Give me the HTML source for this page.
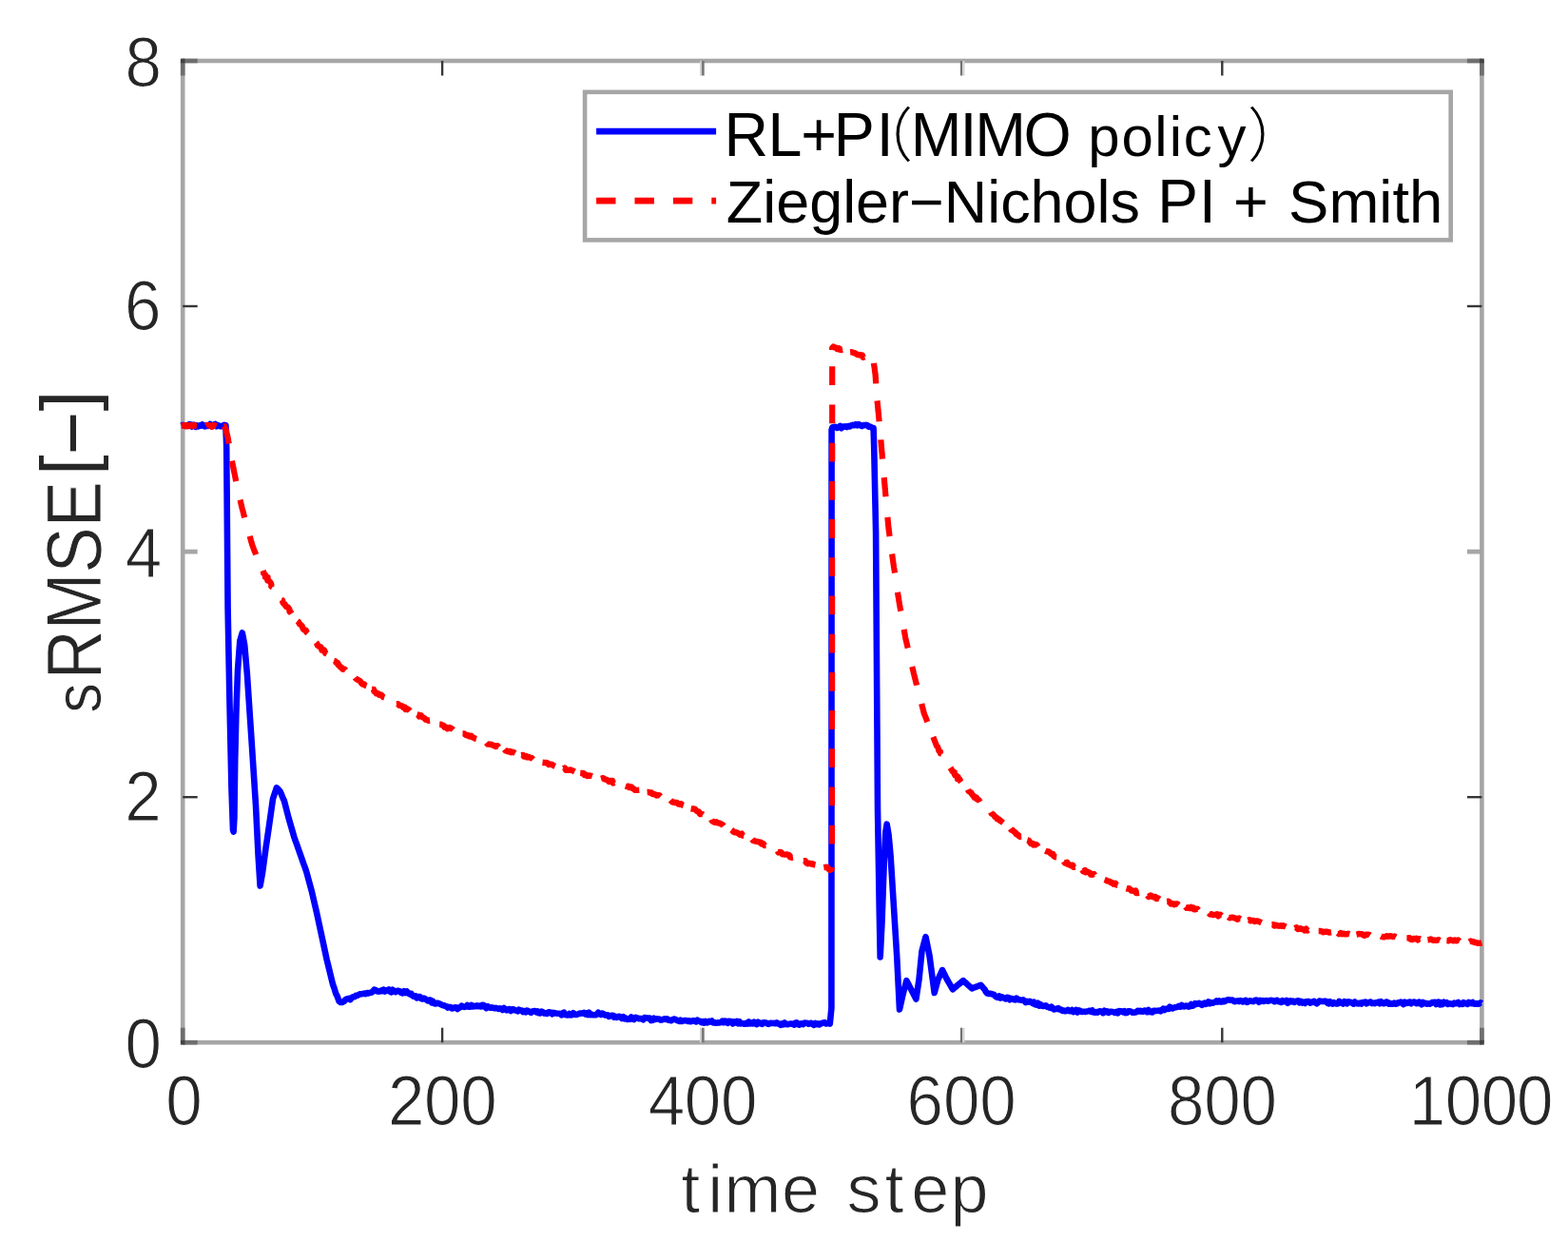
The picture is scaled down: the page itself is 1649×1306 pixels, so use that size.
<!DOCTYPE html>
<html><head><meta charset="utf-8"><title>sRMSE plot</title>
<style>html,body{margin:0;padding:0;background:#fff;}svg{display:block;}</style>
</head><body>
<svg width="1649" height="1306" viewBox="0 0 1649 1306">
<rect width="1649" height="1306" fill="#fff"/>
<rect x="192.2" y="64.0" width="1366.2" height="1032.2" fill="none" stroke="#a6a6a6" stroke-width="4.6"/>
<line x1="465.1" y1="64.0" x2="465.1" y2="79.5" stroke="#363636" stroke-width="2.4"/>
<line x1="736.9" y1="64.0" x2="736.9" y2="79.5" stroke="#d2d2d2" stroke-width="1.8"/>
<line x1="739.3" y1="64.0" x2="739.3" y2="79.5" stroke="#787878" stroke-width="2.8"/>
<line x1="1011.0" y1="64.0" x2="1011.0" y2="79.5" stroke="#727272" stroke-width="2.2"/>
<line x1="1013.3" y1="64.0" x2="1013.3" y2="79.5" stroke="#d2d2d2" stroke-width="2.4"/>
<line x1="1285.3" y1="64.0" x2="1285.3" y2="79.5" stroke="#363636" stroke-width="2.4"/>
<line x1="192.2" y1="64.0" x2="192.2" y2="79.5" stroke="#6e6e6e" stroke-width="4.6"/>
<line x1="1558.4" y1="64.0" x2="1558.4" y2="79.5" stroke="#6e6e6e" stroke-width="4.6"/>
<line x1="465.1" y1="1096.2" x2="465.1" y2="1080.7" stroke="#363636" stroke-width="2.4"/>
<line x1="736.9" y1="1096.2" x2="736.9" y2="1080.7" stroke="#d2d2d2" stroke-width="1.8"/>
<line x1="739.3" y1="1096.2" x2="739.3" y2="1080.7" stroke="#787878" stroke-width="2.8"/>
<line x1="1011.0" y1="1096.2" x2="1011.0" y2="1080.7" stroke="#727272" stroke-width="2.2"/>
<line x1="1013.3" y1="1096.2" x2="1013.3" y2="1080.7" stroke="#d2d2d2" stroke-width="2.4"/>
<line x1="1285.3" y1="1096.2" x2="1285.3" y2="1080.7" stroke="#363636" stroke-width="2.4"/>
<line x1="192.2" y1="1096.2" x2="192.2" y2="1080.7" stroke="#6e6e6e" stroke-width="4.6"/>
<line x1="1558.4" y1="1096.2" x2="1558.4" y2="1080.7" stroke="#6e6e6e" stroke-width="4.6"/>
<line x1="192.2" y1="838.2" x2="207.7" y2="838.2" stroke="#363636" stroke-width="2.4"/>
<line x1="192.2" y1="580.1" x2="207.7" y2="580.1" stroke="#a6a6a6" stroke-width="4.8"/>
<line x1="192.2" y1="322.0" x2="207.7" y2="322.0" stroke="#363636" stroke-width="2.4"/>
<line x1="192.2" y1="1096.2" x2="207.7" y2="1096.2" stroke="#6e6e6e" stroke-width="4.6"/>
<line x1="192.2" y1="64.0" x2="207.7" y2="64.0" stroke="#6e6e6e" stroke-width="4.6"/>
<line x1="1558.4" y1="838.2" x2="1542.9" y2="838.2" stroke="#363636" stroke-width="2.4"/>
<line x1="1558.4" y1="580.1" x2="1542.9" y2="580.1" stroke="#a6a6a6" stroke-width="4.8"/>
<line x1="1558.4" y1="322.0" x2="1542.9" y2="322.0" stroke="#363636" stroke-width="2.4"/>
<line x1="1558.4" y1="1096.2" x2="1542.9" y2="1096.2" stroke="#6e6e6e" stroke-width="4.6"/>
<line x1="1558.4" y1="64.0" x2="1542.9" y2="64.0" stroke="#6e6e6e" stroke-width="4.6"/>
<rect x="189.9" y="61.7" width="4.6" height="4.6" fill="#444"/>
<rect x="1556.1" y="61.7" width="4.6" height="4.6" fill="#444"/>
<rect x="189.9" y="1093.9" width="4.6" height="4.6" fill="#444"/>
<rect x="1556.1" y="1093.9" width="4.6" height="4.6" fill="#444"/>
<path d="M190.8 447.6 L192.2 446.9 L193.5 447.7 L194.9 447.2 L196.3 447.8 L197.7 447.9 L199.0 446.3 L200.4 446.2 L201.8 448.5 L203.1 446.8 L204.5 446.7 L205.9 448.9 L207.2 447.4 L208.6 448.4 L210.0 447.4 L211.4 447.8 L212.7 446.4 L214.1 447.8 L215.5 448.4 L216.8 447.4 L218.2 448.0 L219.6 447.8 L221.0 446.1 L222.3 448.1 L223.7 447.6 L225.1 446.7 L226.4 446.0 L227.8 448.3 L229.2 447.2 L230.5 447.9 L231.9 448.3 L233.3 447.8 L234.7 448.4 L236.0 446.9 L237.4 447.2 L238.2 470.0 L239.6 640.0 L241.5 740.0 L243.5 830.0 L245.0 872.5 L245.6 874.5 L246.4 860.0 L247.2 800.0 L248.4 750.0 L250.0 705.0 L252.3 674.0 L254.8 665.3 L257.2 678.0 L259.9 709.0 L264.5 777.8 L269.0 846.8 L271.6 900.0 L273.6 931.5 L276.0 918.0 L279.5 892.0 L282.8 869.7 L287.0 840.0 L288.9 834.2 L290.9 828.4 L292.7 830.2 L294.5 832.0 L296.0 835.4 L297.4 838.8 L298.9 842.2 L303.5 860.0 L309.3 880.0 L310.7 884.1 L312.2 888.1 L313.6 892.2 L315.0 896.2 L316.5 900.3 L317.9 904.3 L319.3 908.4 L320.8 912.4 L322.2 916.5 L327.6 936.3 L333.0 959.4 L338.5 985.0 L343.6 1008.7 L350.0 1035.0 L351.6 1039.4 L353.2 1044.7 L354.9 1048.1 L356.5 1052.7 L358.3 1054.0 L360.1 1053.9 L361.9 1052.9 L363.5 1051.0 L365.1 1050.3 L366.8 1049.8 L368.4 1051.1 L370.0 1049.0 L371.4 1048.3 L372.9 1048.3 L374.3 1046.8 L375.8 1046.8 L377.2 1046.0 L378.7 1045.3 L380.1 1045.2 L381.6 1045.0 L383.1 1044.6 L384.6 1045.1 L386.1 1044.1 L387.6 1044.4 L389.1 1043.8 L390.6 1043.8 L392.1 1042.5 L393.6 1040.7 L395.1 1041.2 L396.5 1042.3 L397.9 1042.6 L399.2 1042.5 L400.6 1041.6 L402.0 1042.1 L403.4 1040.7 L404.8 1042.5 L406.1 1041.9 L407.5 1041.1 L408.9 1040.5 L410.3 1042.8 L411.6 1043.3 L413.0 1040.8 L414.4 1042.0 L415.9 1043.1 L417.4 1042.2 L418.9 1041.7 L420.4 1042.3 L421.9 1043.8 L423.4 1044.3 L424.9 1042.2 L426.4 1044.0 L427.9 1042.6 L429.4 1044.1 L430.9 1045.4 L432.4 1044.9 L433.9 1047.1 L435.4 1048.0 L436.9 1047.3 L438.4 1049.3 L439.9 1048.0 L441.4 1048.0 L442.9 1050.1 L444.4 1050.5 L445.8 1049.6 L447.1 1050.4 L448.5 1051.4 L449.9 1052.4 L451.3 1051.5 L452.6 1051.6 L454.0 1054.3 L455.4 1053.1 L456.8 1055.3 L458.1 1055.5 L459.5 1054.8 L460.9 1054.9 L462.4 1055.6 L463.8 1056.2 L465.2 1057.0 L466.6 1057.3 L468.1 1057.7 L469.5 1058.3 L470.9 1059.6 L472.3 1058.9 L473.8 1059.1 L475.2 1060.4 L476.6 1060.2 L478.1 1059.3 L479.6 1059.3 L481.1 1061.0 L482.6 1059.5 L484.0 1059.4 L485.5 1057.7 L487.0 1058.6 L488.5 1058.9 L490.0 1058.5 L491.4 1057.1 L492.9 1058.6 L494.4 1058.6 L495.8 1056.9 L497.2 1058.4 L498.7 1057.8 L500.1 1058.3 L501.6 1057.3 L503.1 1058.2 L504.5 1057.5 L505.9 1058.4 L507.3 1056.7 L508.7 1057.0 L510.1 1059.0 L511.5 1060.1 L513.0 1058.3 L514.4 1059.2 L515.8 1059.8 L517.2 1059.3 L518.6 1059.7 L520.0 1060.3 L521.4 1059.9 L522.9 1060.2 L524.3 1061.0 L525.8 1060.3 L527.2 1060.7 L528.6 1061.9 L530.1 1060.0 L531.5 1061.6 L532.9 1062.3 L534.4 1061.2 L535.8 1061.1 L537.2 1062.9 L538.7 1061.4 L540.1 1061.4 L541.6 1062.3 L543.0 1062.6 L544.4 1063.3 L545.8 1061.7 L547.2 1062.4 L548.6 1062.6 L550.0 1064.1 L551.4 1063.1 L552.8 1064.3 L554.2 1062.5 L555.6 1063.1 L557.0 1064.1 L558.4 1064.8 L559.8 1063.7 L561.2 1063.2 L562.6 1063.0 L564.0 1064.3 L565.4 1063.4 L566.7 1065.3 L568.1 1065.5 L569.5 1063.7 L570.9 1064.1 L572.3 1065.7 L573.7 1065.3 L575.1 1065.9 L576.5 1064.7 L577.9 1064.2 L579.3 1064.8 L580.7 1066.3 L582.1 1064.9 L583.5 1065.2 L584.9 1065.5 L586.3 1065.7 L587.7 1065.7 L589.1 1066.1 L590.5 1067.3 L591.9 1065.1 L593.2 1064.7 L594.6 1067.3 L596.0 1067.2 L597.4 1067.5 L598.8 1065.9 L600.2 1067.4 L601.6 1067.3 L602.9 1065.3 L604.3 1066.8 L605.7 1067.0 L607.1 1066.6 L608.5 1066.2 L609.9 1065.5 L611.2 1065.7 L612.6 1065.3 L614.0 1064.9 L615.4 1066.3 L616.8 1065.5 L618.1 1067.0 L619.5 1064.8 L620.9 1067.2 L622.3 1066.6 L623.7 1067.3 L625.1 1067.2 L626.5 1067.2 L627.8 1066.3 L629.2 1064.7 L630.6 1066.1 L632.0 1067.0 L633.4 1065.6 L634.8 1066.2 L636.1 1067.5 L637.5 1067.3 L638.9 1067.2 L640.3 1068.9 L641.7 1068.3 L643.1 1067.7 L644.5 1067.7 L645.8 1069.6 L647.2 1068.8 L648.6 1069.9 L650.0 1068.9 L651.4 1068.7 L652.8 1069.9 L654.1 1070.9 L655.5 1069.3 L656.9 1071.3 L658.3 1070.7 L659.7 1071.9 L661.1 1071.7 L662.5 1071.8 L663.9 1069.5 L665.3 1071.3 L666.7 1072.0 L668.1 1069.8 L669.5 1070.5 L670.9 1070.5 L672.3 1071.3 L673.7 1071.1 L675.1 1071.3 L676.5 1072.2 L677.9 1070.1 L679.3 1070.3 L680.7 1070.5 L682.0 1070.6 L683.4 1070.5 L684.8 1073.1 L686.2 1072.8 L687.6 1070.7 L689.0 1071.9 L690.4 1071.4 L691.8 1071.5 L693.2 1071.6 L694.6 1072.5 L696.0 1072.4 L697.4 1071.8 L698.8 1071.4 L700.2 1071.9 L701.6 1071.3 L703.0 1072.6 L704.4 1072.5 L705.8 1073.2 L707.2 1072.3 L708.6 1071.5 L709.9 1071.9 L711.3 1072.5 L712.7 1073.2 L714.1 1073.8 L715.5 1072.7 L716.9 1074.0 L718.2 1073.5 L719.6 1073.1 L721.0 1073.0 L722.4 1073.4 L723.8 1074.0 L725.2 1073.3 L726.5 1074.1 L727.9 1073.5 L729.3 1073.0 L730.7 1073.9 L732.1 1074.4 L733.5 1072.7 L734.8 1073.8 L736.2 1073.9 L737.6 1075.2 L739.0 1074.2 L740.4 1075.5 L741.8 1073.9 L743.1 1075.4 L744.5 1075.2 L745.9 1073.8 L747.3 1074.4 L748.7 1073.5 L750.0 1075.4 L751.4 1075.1 L752.8 1075.7 L754.2 1075.5 L755.6 1075.2 L756.9 1075.4 L758.3 1075.0 L759.7 1073.7 L761.1 1075.1 L762.5 1073.6 L763.8 1074.0 L765.2 1075.8 L766.6 1073.8 L768.0 1074.0 L769.4 1074.0 L770.7 1076.3 L772.1 1074.4 L773.5 1075.3 L774.9 1074.0 L776.3 1076.3 L777.7 1074.3 L779.1 1076.4 L780.5 1076.0 L781.9 1076.5 L783.3 1076.8 L784.7 1075.8 L786.1 1076.5 L787.5 1074.4 L788.9 1076.4 L790.3 1075.8 L791.7 1076.4 L793.1 1074.7 L794.5 1076.5 L795.9 1077.1 L797.2 1074.7 L798.6 1075.5 L800.0 1076.2 L801.4 1076.9 L802.8 1075.3 L804.2 1075.2 L805.6 1075.4 L807.0 1076.5 L808.4 1076.9 L809.8 1075.9 L811.2 1075.9 L812.6 1076.0 L814.0 1075.9 L815.4 1076.2 L816.8 1075.3 L818.2 1076.5 L819.6 1076.5 L821.0 1077.8 L822.4 1076.3 L823.8 1077.2 L825.2 1075.5 L826.6 1077.0 L828.0 1077.2 L829.4 1077.0 L830.8 1076.5 L832.2 1076.5 L833.6 1076.9 L835.0 1077.6 L836.4 1075.5 L837.8 1075.4 L839.2 1077.2 L840.6 1077.7 L842.0 1076.5 L843.4 1076.3 L844.8 1077.1 L846.2 1075.6 L847.6 1075.8 L849.0 1075.7 L850.4 1076.7 L851.8 1076.0 L853.2 1075.8 L854.6 1077.0 L856.0 1077.8 L857.4 1075.9 L858.8 1077.1 L860.2 1076.3 L861.6 1077.5 L863.0 1076.7 L864.4 1075.8 L865.8 1075.7 L867.2 1075.2 L868.6 1076.4 L870.0 1076.2 L871.4 1075.6 L872.8 1076.5 L874.4 1060.0 L874.6 452.0 L875.4 449.5 L877.0 449.0 L878.7 448.9 L880.4 450.0 L882.0 449.2 L883.4 448.0 L884.9 450.2 L886.3 448.6 L887.7 448.8 L889.1 448.3 L890.6 449.1 L892.0 448.0 L893.6 448.5 L895.2 447.4 L896.8 446.9 L898.4 447.2 L900.0 446.2 L901.6 447.4 L903.2 446.2 L904.8 447.3 L906.4 448.1 L908.0 447.0 L909.4 447.2 L910.8 446.8 L912.2 447.2 L913.6 448.8 L915.0 448.5 L916.8 449.7 L918.6 450.0 L919.2 470.0 L921.1 560.0 L923.0 850.0 L924.8 960.0 L925.7 1006.4 L927.5 970.0 L929.8 905.0 L931.3 875.0 L932.7 866.7 L934.6 878.0 L936.6 900.0 L938.6 931.9 L943.2 1005.4 L946.0 1061.5 L949.0 1048.0 L953.3 1031.2 L954.9 1034.1 L956.4 1037.1 L958.0 1040.0 L959.8 1043.5 L961.6 1047.0 L963.4 1050.5 L966.5 1030.0 L969.5 1000.0 L973.5 985.2 L977.5 1005.0 L982.7 1044.0 L986.5 1030.0 L988.0 1026.7 L989.5 1023.4 L991.0 1020.1 L992.7 1023.4 L994.3 1026.7 L996.0 1030.0 L997.5 1032.6 L999.0 1035.2 L1000.5 1037.8 L1002.0 1040.4 L1003.7 1038.9 L1005.3 1037.5 L1007.0 1036.0 L1008.5 1034.8 L1010.0 1033.6 L1011.5 1032.4 L1013.0 1031.2 L1014.5 1032.6 L1016.1 1033.9 L1017.6 1035.3 L1019.1 1036.7 L1020.7 1038.0 L1022.2 1039.4 L1023.7 1038.8 L1025.3 1038.2 L1026.8 1037.6 L1028.3 1037.0 L1029.9 1036.4 L1031.4 1035.8 L1032.8 1037.3 L1034.2 1038.9 L1035.6 1040.4 L1036.9 1043.2 L1038.3 1044.5 L1039.7 1045.0 L1041.1 1044.7 L1042.5 1044.9 L1043.8 1045.5 L1045.2 1045.7 L1046.6 1047.5 L1048.0 1048.3 L1049.4 1048.8 L1050.8 1047.4 L1052.2 1049.5 L1053.5 1048.3 L1054.9 1049.0 L1056.3 1049.6 L1057.7 1050.4 L1059.1 1048.8 L1060.5 1049.0 L1061.9 1051.2 L1063.3 1049.9 L1064.7 1050.2 L1066.2 1051.0 L1067.6 1051.4 L1069.0 1049.7 L1070.4 1050.8 L1071.8 1051.3 L1073.2 1051.6 L1074.6 1051.8 L1076.0 1051.3 L1077.4 1052.7 L1078.8 1054.1 L1080.2 1052.9 L1081.6 1053.6 L1083.0 1052.8 L1084.4 1053.6 L1085.8 1055.0 L1087.3 1053.8 L1088.7 1056.3 L1090.1 1056.7 L1091.5 1054.8 L1092.9 1057.5 L1094.3 1056.2 L1095.7 1057.7 L1097.1 1058.0 L1098.5 1057.6 L1099.9 1057.4 L1101.4 1058.8 L1102.8 1059.1 L1104.3 1059.9 L1105.7 1058.7 L1107.2 1060.5 L1108.6 1061.4 L1110.0 1060.9 L1111.5 1060.9 L1112.9 1060.1 L1114.4 1061.5 L1115.8 1061.5 L1117.3 1062.9 L1118.7 1062.6 L1120.1 1063.2 L1121.6 1062.9 L1123.0 1061.9 L1124.4 1063.2 L1125.9 1063.3 L1127.3 1062.1 L1128.7 1064.1 L1130.2 1063.5 L1131.6 1062.1 L1133.1 1064.4 L1134.5 1062.3 L1135.9 1062.8 L1137.4 1064.0 L1138.8 1063.7 L1140.2 1063.7 L1141.7 1064.0 L1143.1 1063.5 L1144.5 1063.2 L1146.0 1062.8 L1147.4 1063.8 L1148.8 1062.6 L1150.2 1064.5 L1151.6 1064.6 L1153.0 1064.0 L1154.4 1064.6 L1155.8 1063.6 L1157.2 1063.3 L1158.6 1063.7 L1160.0 1065.1 L1161.4 1062.8 L1162.8 1064.1 L1164.2 1063.4 L1165.7 1064.9 L1167.1 1063.7 L1168.5 1063.7 L1169.9 1063.9 L1171.3 1064.3 L1172.7 1065.0 L1174.1 1063.9 L1175.5 1065.3 L1176.9 1063.2 L1178.3 1063.7 L1179.7 1063.3 L1181.1 1064.4 L1182.5 1063.3 L1183.9 1065.1 L1185.3 1064.9 L1186.7 1063.3 L1188.1 1063.2 L1189.5 1063.8 L1190.9 1064.7 L1192.3 1064.8 L1193.7 1064.6 L1195.1 1064.1 L1196.5 1062.8 L1197.9 1063.4 L1199.4 1062.8 L1200.8 1063.7 L1202.2 1063.7 L1203.6 1062.6 L1205.0 1062.7 L1206.4 1064.1 L1207.8 1062.0 L1209.2 1064.1 L1210.6 1064.3 L1212.0 1064.4 L1213.4 1062.7 L1214.8 1063.0 L1216.2 1062.9 L1217.6 1062.7 L1219.0 1062.6 L1220.4 1063.3 L1221.8 1062.2 L1223.2 1060.8 L1224.6 1062.1 L1226.0 1060.8 L1227.4 1060.9 L1228.8 1061.0 L1230.2 1058.7 L1231.6 1059.8 L1233.0 1060.4 L1234.4 1059.9 L1235.8 1059.2 L1237.2 1059.1 L1238.6 1058.8 L1240.0 1057.8 L1241.4 1058.6 L1242.8 1057.0 L1244.2 1058.2 L1245.6 1058.4 L1247.0 1057.6 L1248.4 1057.8 L1249.9 1058.7 L1251.3 1058.3 L1252.7 1056.0 L1254.1 1057.7 L1255.5 1057.0 L1256.9 1055.2 L1258.3 1055.9 L1259.7 1055.4 L1261.1 1054.8 L1262.5 1055.9 L1263.9 1056.8 L1265.3 1055.4 L1266.7 1054.7 L1268.1 1055.9 L1269.5 1055.2 L1270.9 1053.4 L1272.3 1055.2 L1273.8 1054.2 L1275.2 1054.8 L1276.6 1054.0 L1278.0 1053.8 L1279.4 1052.5 L1280.8 1053.5 L1282.2 1052.4 L1283.6 1053.6 L1285.0 1053.4 L1286.4 1052.3 L1287.7 1053.2 L1289.1 1052.4 L1290.5 1051.4 L1291.9 1051.2 L1293.3 1051.4 L1294.7 1051.7 L1296.1 1051.6 L1297.4 1052.6 L1298.8 1053.2 L1300.2 1052.7 L1301.6 1052.4 L1303.0 1053.1 L1304.4 1052.1 L1305.8 1052.6 L1307.1 1053.4 L1308.5 1052.5 L1309.9 1051.9 L1311.3 1053.9 L1312.7 1053.4 L1314.1 1052.4 L1315.4 1052.5 L1316.8 1052.9 L1318.2 1053.1 L1319.6 1052.1 L1321.0 1051.5 L1322.4 1052.1 L1323.8 1053.7 L1325.1 1051.9 L1326.5 1052.9 L1327.9 1052.1 L1329.3 1053.0 L1330.7 1052.2 L1332.1 1052.1 L1333.5 1052.8 L1334.8 1052.2 L1336.2 1051.8 L1337.6 1052.0 L1339.0 1052.2 L1340.4 1053.2 L1341.8 1052.0 L1343.2 1051.9 L1344.5 1053.1 L1345.9 1053.0 L1347.3 1053.9 L1348.7 1052.1 L1350.1 1053.1 L1351.5 1053.1 L1352.9 1052.1 L1354.3 1054.7 L1355.6 1052.7 L1357.0 1052.3 L1358.4 1053.4 L1359.8 1052.6 L1361.2 1053.9 L1362.6 1053.1 L1364.0 1052.5 L1365.3 1052.4 L1366.7 1054.3 L1368.1 1053.0 L1369.5 1054.5 L1370.9 1053.6 L1372.3 1054.9 L1373.7 1053.2 L1375.0 1053.1 L1376.4 1053.1 L1377.8 1054.7 L1379.2 1054.2 L1380.6 1053.4 L1382.0 1052.8 L1383.4 1054.4 L1384.8 1055.3 L1386.1 1054.2 L1387.5 1052.6 L1388.9 1052.7 L1390.3 1052.9 L1391.7 1053.1 L1393.1 1052.8 L1394.5 1052.9 L1395.8 1054.6 L1397.2 1055.3 L1398.6 1053.3 L1400.0 1054.2 L1401.4 1055.5 L1402.8 1054.2 L1404.1 1055.1 L1405.5 1055.4 L1406.9 1055.5 L1408.3 1053.0 L1409.7 1053.7 L1411.0 1054.6 L1412.4 1055.5 L1413.8 1053.1 L1415.2 1053.7 L1416.6 1055.3 L1417.9 1053.3 L1419.3 1054.0 L1420.7 1053.9 L1422.1 1054.9 L1423.4 1055.6 L1424.8 1053.5 L1426.2 1055.1 L1427.6 1055.1 L1429.0 1055.4 L1430.3 1054.6 L1431.7 1055.6 L1433.1 1054.1 L1434.5 1054.2 L1435.9 1053.7 L1437.2 1055.3 L1438.6 1054.4 L1440.0 1053.9 L1441.4 1053.6 L1442.8 1055.1 L1444.1 1054.8 L1445.5 1055.1 L1446.9 1054.2 L1448.3 1054.5 L1449.7 1053.6 L1451.0 1055.2 L1452.4 1053.3 L1453.8 1054.5 L1455.2 1055.3 L1456.6 1055.1 L1457.9 1053.5 L1459.3 1053.9 L1460.7 1055.6 L1462.1 1055.1 L1463.4 1055.7 L1464.8 1055.7 L1466.2 1054.6 L1467.6 1055.8 L1469.0 1055.4 L1470.3 1054.3 L1471.7 1054.4 L1473.1 1053.6 L1474.5 1054.5 L1475.9 1056.0 L1477.2 1053.7 L1478.6 1055.0 L1480.0 1054.8 L1481.4 1053.7 L1482.8 1053.6 L1484.1 1055.2 L1485.5 1054.1 L1486.9 1053.6 L1488.3 1053.9 L1489.6 1055.3 L1491.0 1055.1 L1492.4 1053.5 L1493.8 1054.1 L1495.1 1056.2 L1496.5 1054.1 L1497.9 1055.1 L1499.3 1054.7 L1500.6 1055.7 L1502.0 1055.2 L1503.4 1055.7 L1504.8 1055.0 L1506.1 1054.1 L1507.5 1054.0 L1508.9 1053.8 L1510.3 1055.9 L1511.6 1053.9 L1513.0 1053.6 L1514.4 1056.3 L1515.8 1054.1 L1517.1 1056.1 L1518.5 1053.8 L1519.9 1054.9 L1521.3 1054.2 L1522.6 1055.9 L1524.0 1055.3 L1525.4 1055.4 L1526.8 1055.8 L1528.1 1056.1 L1529.5 1054.6 L1530.9 1055.3 L1532.3 1054.9 L1533.6 1054.0 L1535.0 1056.0 L1536.4 1055.4 L1537.8 1056.0 L1539.1 1054.3 L1540.5 1055.2 L1541.9 1055.0 L1543.3 1055.8 L1544.6 1053.9 L1546.0 1054.7 L1547.4 1055.1 L1548.8 1054.0 L1550.1 1055.3 L1551.5 1055.8 L1552.9 1055.0 L1554.3 1055.6 L1555.6 1055.5 L1557.0 1054.4 L1558.4 1055.2" fill="none" stroke="#0000ff" stroke-width="6.6" stroke-linejoin="round" stroke-linecap="butt"/>
<path d="M190.8 448.0 L192.3 447.6 L193.7 447.2 L195.2 448.3 L196.7 447.0 L198.2 448.1 L199.6 447.7 L201.1 447.0 L202.6 448.0 L204.1 446.9 L205.5 447.8 L207.0 448.0M216.7 448.0 L218.3 447.0 L219.8 447.1 L221.4 447.8 L223.0 448.8 L224.6 447.1 L226.1 447.4 L227.7 448.0M295.7 630.8 L297.2 631.5 L297.4 633.3 L298.2 634.6 L299.6 635.4 L300.2 636.9 L301.2 638.0 L302.9 638.6 L303.8 639.8 L304.5 641.2 L304.5 643.1 L305.8 644.0 L306.6 645.3M312.7 653.0 L314.1 654.1 L314.7 655.7 L316.0 656.8 L317.4 657.9 L318.1 659.5 L318.7 661.2 L319.9 662.3 L321.8 662.9 L322.4 664.7 L323.6 665.9M332.3 675.6 L333.4 676.9 L334.0 678.7 L335.3 679.6 L337.2 680.2 L338.0 681.7 L338.4 683.7 L340.9 683.5 L341.6 685.1 L342.2 686.9 L343.8 687.7M351.1 694.7 L352.8 695.2 L353.5 696.8 L355.4 697.2 L355.6 699.3 L357.1 700.1 L358.0 701.6 L359.6 702.2 L360.4 703.7 L362.5 703.7 L363.5 705.0M373.4 712.5 L374.3 713.7 L375.6 714.4 L376.9 715.3 L378.3 715.9 L379.4 716.9 L380.2 718.4 L381.3 719.5 L383.1 719.5 L384.1 720.7 L385.5 721.2M391.1 725.0 L393.0 725.0 L393.5 727.1 L394.9 727.8 L395.8 729.3 L397.7 729.2 L398.6 730.7 L400.6 730.4 L401.8 731.5 L402.8 732.9 L404.3 733.4M416.9 740.4 L418.8 740.2 L419.8 741.8 L421.5 741.9 L423.0 742.5 L424.0 744.0 L425.9 743.8 L426.6 746.0 L428.7 745.4 L430.0 746.3 L431.1 747.6M438.5 751.3 L440.0 751.7 L440.8 753.4 L443.0 752.4 L443.9 753.8 L445.2 754.6 L446.5 755.3 L447.6 756.6 L449.1 757.0 L450.4 757.7 L452.1 757.5M462.2 761.6 L463.8 761.7 L465.2 762.6 L466.6 763.1 L467.6 764.8 L469.4 764.6 L470.5 766.2 L472.6 765.0 L474.0 765.6 L475.4 766.3 L476.6 767.5M486.5 771.4 L488.2 771.4 L489.4 772.5 L490.7 773.3 L492.5 773.2 L493.7 774.3 L495.6 773.8 L496.7 775.2 L498.2 775.7 L499.5 776.6 L501.0 777.0M511.5 781.0 L512.8 782.6 L514.6 782.6 L516.4 782.8 L518.0 783.4 L519.5 784.2 L521.1 785.0 L523.2 784.2 L524.5 785.8M530.5 787.9 L531.6 789.3 L533.1 789.6 L534.5 790.3 L536.2 790.0 L537.4 791.2 L539.2 790.8 L540.6 791.3 L541.9 792.0M548.1 794.2 L550.0 793.9 L551.2 795.6 L553.2 794.9 L554.4 796.4 L556.3 796.0 L557.8 796.8 L559.4 797.2 L560.7 798.5M570.5 801.8 L572.2 802.0 L574.1 801.9 L575.8 802.4 L577.1 804.0 L579.0 803.7 L580.7 804.0 L582.2 805.1 L583.8 805.8M592.2 808.1 L594.0 807.5 L595.0 809.8 L596.7 809.6 L598.3 809.8 L600.0 809.4 L601.5 810.1 L603.0 810.7 L604.4 811.4M610.2 812.9 L611.8 813.0 L613.6 812.9 L614.7 815.0 L616.5 814.6 L617.8 816.1 L619.7 815.4 L621.3 815.8 L622.8 816.3M632.0 818.7 L633.7 818.2 L635.1 818.6 L636.5 819.6 L638.0 819.8 L639.3 820.7 L640.5 821.9 L642.4 820.9 L644.0 821.0 L644.8 823.5 L646.5 823.0M657.8 826.6 L659.2 827.1 L660.9 826.7 L662.1 828.1 L663.9 827.4 L665.0 828.9 L666.4 829.3 L667.6 830.7 L669.2 830.9 L670.7 830.9 L672.3 830.8M680.6 833.0 L682.2 832.9 L683.6 833.5 L685.1 833.4 L686.2 835.1 L687.8 834.9 L689.2 835.5 L690.4 836.5 L692.1 836.1 L693.6 836.4 L694.8 837.5M705.1 841.4 L706.2 842.6 L707.5 843.5 L709.0 843.7 L710.4 844.1 L712.0 844.0 L713.1 845.3 L714.5 845.7 L716.3 845.2 L717.4 846.4 L718.8 846.9M726.6 850.3 L728.0 850.5 L729.7 850.4 L731.0 851.0 L732.1 852.1 L733.2 853.1 L734.7 853.3 L735.5 854.9 L736.4 856.2 L738.3 855.9 L739.4 856.7M748.2 861.7 L748.9 863.3 L750.2 864.1 L751.5 864.8 L753.4 864.3 L754.5 865.3 L756.1 865.4 L757.4 866.0 L758.7 866.6 L760.0 867.3 L761.0 868.6M769.2 872.6 L770.4 873.5 L771.4 874.8 L772.7 875.3 L774.4 875.2 L775.7 875.9 L776.9 876.8 L778.1 877.7 L780.1 876.7 L780.9 878.5 L782.4 878.8M790.9 882.4 L792.1 883.9 L793.7 884.3 L795.2 884.9 L796.9 884.9 L798.4 885.6 L800.2 885.6 L801.0 887.6 L803.0 887.3 L804.0 889.0 L805.7 889.1M817.7 894.8 L818.6 896.4 L820.5 895.9 L821.8 896.5 L822.6 898.3 L824.2 898.4 L825.7 898.6 L827.3 898.4 L828.8 898.8 L830.1 899.3 L830.9 901.4 L832.4 901.7 L834.0 901.5M845.0 905.4 L846.9 905.2 L848.0 907.3 L849.5 908.2 L851.5 907.7 L852.9 908.5 L854.6 908.3 L856.0 909.2 L857.5 909.5M866.3 912.1 L868.2 911.8 L869.9 912.0 L871.2 913.6 L872.8 914.9 L874.6 914.0 L874.6 912.0M875.2 368.0 L875.2 366.0 L876.5 364.6 L877.8 365.4 L879.2 365.6 L880.3 366.9 L882.1 366.2 L883.1 367.6 L884.5 368.0 L886.2 367.7M894.1 370.3 L895.7 370.2 L897.1 370.7 L898.4 371.2 L899.8 371.6 L901.0 372.6 L902.3 373.2 L903.9 372.9 L905.2 373.7 L906.8 373.5 L907.7 375.7 L909.4 375.2M999.5 807.3 L1000.3 808.6 L1001.1 810.0 L1001.9 811.3 L1003.8 812.0 L1003.8 813.9 L1004.5 815.3 L1006.1 816.0 L1007.5 816.9 L1007.1 819.3 L1009.3 819.5 L1009.8 821.1 L1010.8 822.4M1018.0 830.3 L1018.6 831.8 L1019.9 832.7 L1021.3 833.5 L1022.0 834.9 L1022.9 836.1 L1024.0 837.1 L1024.7 838.6 L1026.8 838.5 L1027.2 840.3 L1028.8 840.8 L1029.9 841.9 L1030.6 843.3M1042.0 854.0 L1042.8 855.6 L1044.4 856.2 L1045.5 857.5 L1046.4 858.9 L1048.0 859.6 L1048.6 861.3 L1050.4 861.4 L1051.3 862.6 L1052.7 863.4 L1053.8 864.3 L1055.0 865.2M1062.7 871.4 L1063.5 872.6 L1065.0 873.1 L1065.9 874.1 L1067.1 874.9 L1068.2 875.8 L1068.8 877.4 L1070.3 877.7 L1071.3 878.8 L1072.4 879.7 L1074.2 879.6M1080.3 883.4 L1082.0 883.9 L1083.0 885.3 L1084.0 887.0 L1085.9 887.0 L1087.0 888.5 L1089.2 887.9 L1090.7 888.7 L1091.7 890.3M1099.3 894.6 L1100.9 895.3 L1102.8 895.4 L1104.1 896.5 L1105.3 897.9 L1107.3 897.9 L1108.0 900.0 L1109.4 901.1 L1111.2 901.3M1118.8 905.8 L1119.8 907.4 L1122.1 906.8 L1122.9 908.8 L1124.6 909.2 L1126.0 910.2 L1128.1 909.7 L1129.0 911.9 L1130.9 911.7M1138.2 914.6 L1139.1 916.2 L1141.1 915.1 L1141.8 917.2 L1143.6 916.5 L1144.9 917.3 L1146.2 917.9 L1147.0 919.5 L1148.5 919.8 L1150.5 919.0 L1151.4 920.3M1161.6 925.0 L1163.0 925.5 L1164.3 926.3 L1165.8 926.6 L1167.3 926.9 L1168.4 928.2 L1170.0 928.3 L1171.0 929.7 L1173.0 928.7 L1174.0 930.4 L1175.5 930.8M1184.5 934.2 L1185.9 934.6 L1187.6 934.2 L1188.7 935.3 L1189.8 936.5 L1191.2 936.7 L1192.6 937.1 L1194.2 936.6 L1195.0 939.0 L1196.5 939.0 L1198.0 938.8M1206.6 941.4 L1207.9 943.0 L1210.1 941.5 L1211.6 942.4 L1213.1 943.4 L1215.0 942.9 L1216.1 945.1 L1218.1 944.5 L1219.5 945.5M1227.1 948.0 L1228.9 947.8 L1230.3 948.9 L1231.5 950.5 L1233.3 950.1 L1234.7 951.2 L1236.6 950.4 L1238.2 950.5 L1239.6 951.7M1246.7 953.5 L1247.8 954.8 L1249.4 954.3 L1250.7 955.0 L1252.4 953.9 L1253.5 955.2 L1255.1 954.6 L1256.1 956.4 L1257.6 956.1 L1259.2 955.7 L1260.3 957.1M1271.2 960.1 L1272.6 961.5 L1274.4 961.3 L1276.0 962.1 L1277.9 961.9 L1279.8 961.2 L1281.2 963.3 L1283.2 961.8 L1284.8 963.1M1291.8 964.2 L1293.2 965.3 L1295.0 964.7 L1296.7 964.7 L1298.2 965.3 L1299.8 965.7 L1301.2 966.8 L1303.1 965.6 L1304.6 966.4M1312.4 967.8 L1314.0 967.2 L1315.2 968.3 L1316.8 967.9 L1318.2 967.9 L1319.5 969.0 L1321.1 968.5 L1322.5 968.5 L1323.9 969.1 L1325.2 969.6 L1326.6 970.3M1337.5 972.3 L1339.1 972.2 L1340.3 973.5 L1342.0 972.7 L1343.4 973.4 L1344.9 973.7 L1346.5 973.2 L1347.9 973.8 L1349.5 973.2 L1350.9 974.0 L1352.4 974.7M1361.8 976.1 L1363.4 975.2 L1364.7 977.0 L1366.2 976.8 L1367.7 976.2 L1369.1 977.1 L1370.6 977.2 L1371.9 978.4 L1373.6 976.7 L1374.9 978.5 L1376.4 977.9M1386.7 979.0 L1388.4 979.0 L1390.0 979.3 L1391.6 980.3 L1393.4 979.7 L1395.1 979.6 L1396.8 980.1 L1398.4 980.6 L1400.1 980.4M1406.8 981.1 L1408.3 982.3 L1410.0 981.0 L1411.5 982.3 L1413.1 981.7 L1414.6 982.3 L1416.2 982.2 L1417.8 981.8 L1419.4 982.2M1426.5 982.7 L1427.9 982.4 L1429.4 981.9 L1430.8 982.1 L1432.2 982.1 L1433.6 983.2 L1435.0 983.8 L1436.5 982.8 L1437.9 982.7 L1439.4 982.6 L1440.7 983.6M1452.2 984.3 L1453.8 985.1 L1455.3 985.3 L1456.9 984.9 L1458.6 984.1 L1460.1 984.7 L1461.7 984.2 L1463.3 984.5 L1464.8 985.0 L1466.5 984.5 L1468.0 985.4M1479.4 986.4 L1480.8 986.4 L1482.3 986.1 L1483.6 987.8 L1485.1 988.0 L1486.6 987.0 L1488.0 987.2 L1489.5 986.7 L1490.8 988.4 L1492.4 987.1 L1493.8 987.6M1501.4 988.3 L1503.0 988.1 L1504.7 987.4 L1506.2 988.4 L1507.8 988.8 L1509.4 988.8 L1511.0 988.9 L1512.7 988.2 L1514.3 989.0M1521.4 989.1 L1523.2 989.2 L1524.9 988.1 L1526.6 988.7 L1528.3 989.3 L1530.1 988.5 L1531.7 989.3 L1533.5 988.6 L1535.1 989.8M1545.3 990.5 L1546.8 989.5 L1548.2 990.2 L1549.7 990.2 L1551.1 991.1 L1552.6 991.1 L1554.0 991.7 L1555.5 991.6 L1556.9 991.8 L1558.4 991.4" fill="none" stroke="#ff0000" stroke-width="6.4" stroke-linejoin="round" stroke-linecap="butt"/>
<path d="M235.3 448.0 L236.0 448.0 L236.7 449.7 L237.3 451.3 L238.0 453.0 L238.3 454.5 L238.7 456.0 L239.0 457.5 L239.3 459.0 L239.7 460.5 L240.0 462.0 L240.2 463.5 L240.5 465.0 L240.7 466.5M243.9 484.7 L244.2 486.1 L244.5 487.5 L244.8 488.9 L245.1 490.4 L245.4 491.8 L245.6 493.2 L245.9 494.6 L246.2 496.0 L246.5 497.5 L246.8 498.9 L247.1 500.4 L247.4 501.8 L247.7 503.3 L247.9 504.7 L248.2 506.2M252.5 525.6 L252.9 527.0 L253.2 528.4 L253.5 529.8 L253.8 531.2 L254.2 532.6 L254.5 534.0 L254.9 535.5 L255.3 536.9 L255.7 538.4 L256.1 539.8 L256.4 541.3 L256.8 542.7 L257.2 544.2M262.7 563.8 L263.1 565.3 L263.5 566.8 L263.9 568.4 L264.4 569.9 L264.8 571.4 L265.2 572.9 L265.8 574.4 L266.3 575.8 L266.9 577.3 L267.4 578.8 L268.0 580.2 L268.6 581.7 L269.1 583.2M276.6 600.0 L277.1 601.4 L277.1 603.0 L278.5 603.9 L279.5 605.0 L279.0 606.9 L281.6 607.1 L281.3 608.9 L281.3 610.6 L283.2 611.1 L284.2 612.2 L285.0 613.4 L285.4 614.8 L285.2 616.7 L286.5 617.5M874.9 887.5 L874.9 886.0 L874.9 884.5 L875.0 883.0 L875.0 881.5 L875.0 880.0 L875.0 878.5 L875.0 876.9 L875.0 875.4 L875.0 873.8 L875.0 872.3 L875.0 870.8 L875.0 869.2 L875.0 867.7M875.0 847.3 L875.0 845.9 L875.0 844.5 L875.0 843.1 L875.0 841.6 L875.0 840.2 L875.0 838.8 L875.0 837.4 L875.0 836.0 L875.0 834.6 L875.0 833.2 L875.0 831.7 L875.0 830.3 L875.0 828.9 L875.0 827.5M875.0 807.1 L875.0 805.7 L875.0 804.3 L875.0 802.9 L875.0 801.4 L875.0 800.0 L875.0 798.6 L875.0 797.2 L875.0 795.8 L875.0 794.4 L875.0 793.0 L875.0 791.5 L875.0 790.1 L875.0 788.7 L875.0 787.3M875.0 766.9 L875.0 765.5 L875.0 764.1 L875.0 762.7 L875.0 761.2 L875.0 759.8 L875.0 758.4 L875.0 757.0 L875.0 755.6 L875.0 754.2 L875.0 752.8 L875.1 751.3 L875.1 749.9 L875.1 748.5 L875.1 747.1M875.1 726.7 L875.1 725.3 L875.1 723.9 L875.1 722.5 L875.1 721.0 L875.1 719.6 L875.1 718.2 L875.1 716.8 L875.1 715.4 L875.1 714.0 L875.1 712.6 L875.1 711.1 L875.1 709.7 L875.1 708.3 L875.1 706.9M875.1 686.5 L875.1 685.1 L875.1 683.7 L875.1 682.3 L875.1 680.8 L875.1 679.4 L875.1 678.0 L875.1 676.6 L875.1 675.2 L875.1 673.8 L875.1 672.4 L875.1 670.9 L875.1 669.5 L875.1 668.1 L875.1 666.7M875.1 646.3 L875.1 644.9 L875.1 643.5 L875.1 642.1 L875.1 640.6 L875.1 639.2 L875.1 637.8 L875.1 636.4 L875.1 635.0 L875.1 633.6 L875.1 632.2 L875.1 630.7 L875.1 629.3 L875.1 627.9 L875.1 626.5M875.1 606.1 L875.1 604.7 L875.1 603.3 L875.1 601.9 L875.1 600.4 L875.1 599.0 L875.1 597.6 L875.1 596.2 L875.1 594.8 L875.1 593.4 L875.1 592.0 L875.1 590.5 L875.1 589.1 L875.1 587.7 L875.1 586.3M875.1 565.9 L875.1 564.5 L875.1 563.1 L875.1 561.7 L875.1 560.2 L875.1 558.8 L875.1 557.4 L875.1 556.0 L875.1 554.6 L875.1 553.2 L875.1 551.8 L875.1 550.3 L875.1 548.9 L875.1 547.5 L875.1 546.1M875.1 525.7 L875.1 524.3 L875.1 522.9 L875.1 521.5 L875.1 520.0 L875.1 518.6 L875.1 517.2 L875.1 515.8 L875.1 514.4 L875.1 513.0 L875.1 511.6 L875.1 510.1 L875.1 508.7 L875.1 507.3 L875.1 505.9M875.2 485.5 L875.2 484.1 L875.2 482.7 L875.2 481.3 L875.2 479.8 L875.2 478.4 L875.2 477.0 L875.2 475.6 L875.2 474.2 L875.2 472.8 L875.2 471.4 L875.2 469.9 L875.2 468.5 L875.2 467.1 L875.2 465.7M875.2 445.3 L875.2 443.9 L875.2 442.5 L875.2 441.1 L875.2 439.6 L875.2 438.2 L875.2 436.8 L875.2 435.4 L875.2 434.0 L875.2 432.6 L875.2 431.2 L875.2 429.7 L875.2 428.3 L875.2 426.9 L875.2 425.5M875.2 405.1 L875.2 403.7 L875.2 402.3 L875.2 400.9 L875.2 399.4 L875.2 398.0 L875.2 396.6 L875.2 395.2 L875.2 393.8 L875.2 392.4 L875.2 391.0 L875.2 389.5 L875.2 388.1 L875.2 386.7 L875.2 385.3M918.9 381.9 L919.1 383.4 L919.3 384.9 L919.6 386.4 L919.8 387.9 L920.0 389.5 L920.2 391.0 L920.4 392.5 L920.6 394.0 L920.7 395.6 L920.8 397.1 L920.9 398.7 L921.0 400.3 L921.1 401.8 L921.2 403.4M922.5 421.4 L922.7 422.9 L922.8 424.4 L923.0 425.9 L923.1 427.5 L923.3 429.0 L923.4 430.5 L923.6 432.0 L923.7 433.4 L923.9 434.8 L924.0 436.2 L924.1 437.6 L924.2 439.0 L924.4 440.4 L924.5 441.8 L924.6 443.2M926.3 462.4 L926.4 463.9 L926.6 465.3 L926.7 466.8 L926.8 468.2 L926.9 469.6 L927.1 471.1 L927.2 472.5 L927.3 473.9 L927.4 475.4 L927.6 476.8 L927.7 478.3 L927.8 479.7 L927.9 481.1 L928.1 482.6M929.7 502.1 L929.9 503.6 L930.0 505.0 L930.1 506.4 L930.2 507.9 L930.4 509.3 L930.5 510.8 L930.6 512.2 L930.7 513.6 L930.9 515.1 L931.0 516.5 L931.1 517.9 L931.2 519.4 L931.4 520.8 L931.5 522.3M933.4 543.9 L933.6 545.4 L933.7 546.9 L933.8 548.4 L934.0 549.8 L934.1 551.3 L934.2 552.8 L934.4 554.2 L934.5 555.7 L934.7 557.4 L935.0 559.0 L935.2 560.7 L935.4 562.4 L935.6 564.0M938.1 582.5 L938.3 583.9 L938.5 585.4 L938.7 586.8 L938.9 588.2 L939.1 589.6 L939.3 591.1 L939.5 592.5 L939.7 593.9 L939.9 595.4 L940.1 596.8 L940.4 598.2 L940.6 599.6 L940.8 601.1 L941.0 602.5M944.0 622.7 L944.2 624.1 L944.4 625.6 L944.6 627.0 L944.9 628.4 L945.1 629.8 L945.3 631.3 L945.5 632.7 L945.8 634.1 L946.0 635.5 L946.3 637.0 L946.5 638.4 L946.8 639.8 L947.0 641.2 L947.3 642.6M950.6 661.8 L950.9 663.2 L951.1 664.6 L951.4 666.0 L951.6 667.4 L951.9 668.9 L952.1 670.3 L952.4 671.7 L952.7 673.1 L953.1 674.5 L953.4 675.9 L953.7 677.3 L954.1 678.7 L954.4 680.1 L954.7 681.5M959.3 701.0 L959.6 702.4 L959.9 703.8 L960.3 705.2 L960.6 706.6 L960.9 708.0 L961.3 709.4 L961.6 710.8 L962.0 712.2 L962.3 713.6 L962.7 715.0 L963.0 716.4 L963.4 717.8 L963.8 719.2 L964.1 720.6M969.2 740.0 L969.5 741.4 L969.9 742.8 L970.3 744.2 L970.6 745.6 L971.0 747.0 L971.3 748.4 L971.7 749.8 L972.2 751.1 L972.7 752.5 L973.3 753.8 L973.8 755.2 L974.3 756.5 L974.8 757.9 L975.3 759.2M981.4 774.9 L981.9 776.2 L982.4 777.6 L982.9 778.9 L983.4 780.3 L984.0 781.6 L984.5 783.0 L985.0 784.3 L986.1 785.3 L986.6 786.7 L987.1 788.1 L987.3 789.7 L989.0 790.3 L988.8 792.1 L990.4 792.8" fill="none" stroke="#ff0000" stroke-width="6.2" stroke-linejoin="round" stroke-linecap="butt"/>
<g transform="scale(0.9300,1)"><text x="141.30" y="1123.00" style="font-family:&quot;Liberation Sans&quot;,Arial,sans-serif;font-size:74.40px" fill="#262626" stroke="#fff" stroke-width="1.10" stroke-linejoin="round">0</text></g>
<g transform="scale(0.9300,1)"><text x="141.14" y="862.60" style="font-family:&quot;Liberation Sans&quot;,Arial,sans-serif;font-size:74.40px" fill="#262626" stroke="#fff" stroke-width="1.10" stroke-linejoin="round">2</text></g>
<g transform="scale(0.9300,1)"><text x="141.54" y="607.00" style="font-family:&quot;Liberation Sans&quot;,Arial,sans-serif;font-size:74.40px" fill="#262626" stroke="#fff" stroke-width="1.10" stroke-linejoin="round">4</text></g>
<g transform="scale(0.9300,1)"><text x="140.99" y="347.40" style="font-family:&quot;Liberation Sans&quot;,Arial,sans-serif;font-size:74.40px" fill="#262626" stroke="#fff" stroke-width="1.10" stroke-linejoin="round">6</text></g>
<g transform="scale(0.9300,1)"><text x="141.30" y="90.80" style="font-family:&quot;Liberation Sans&quot;,Arial,sans-serif;font-size:74.40px" fill="#262626" stroke="#fff" stroke-width="1.10" stroke-linejoin="round">8</text></g>
<g transform="scale(0.9300,1)"><text x="187.27" y="1183.20" style="font-family:&quot;Liberation Sans&quot;,Arial,sans-serif;font-size:74.40px" fill="#262626" stroke="#fff" stroke-width="1.10" stroke-linejoin="round">0</text></g>
<g transform="scale(0.9300,1)"><text x="438.61 479.69 520.76" y="1183.20" style="font-family:&quot;Liberation Sans&quot;,Arial,sans-serif;font-size:74.40px" fill="#262626" stroke="#fff" stroke-width="1.10" stroke-linejoin="round">200</text></g>
<g transform="scale(0.9300,1)"><text x="733.15 773.99 815.06" y="1183.20" style="font-family:&quot;Liberation Sans&quot;,Arial,sans-serif;font-size:74.40px" fill="#262626" stroke="#fff" stroke-width="1.10" stroke-linejoin="round">400</text></g>
<g transform="scale(0.9300,1)"><text x="1025.35 1066.68 1107.75" y="1183.20" style="font-family:&quot;Liberation Sans&quot;,Arial,sans-serif;font-size:74.40px" fill="#262626" stroke="#fff" stroke-width="1.10" stroke-linejoin="round">600</text></g>
<g transform="scale(0.9300,1)"><text x="1320.44 1361.52 1402.59" y="1183.20" style="font-family:&quot;Liberation Sans&quot;,Arial,sans-serif;font-size:74.40px" fill="#262626" stroke="#fff" stroke-width="1.10" stroke-linejoin="round">800</text></g>
<g transform="scale(0.9300,1)"><text x="1593.35 1634.04 1674.90 1715.12" y="1183.20" style="font-family:&quot;Liberation Sans&quot;,Arial,sans-serif;font-size:74.40px" fill="#262626" stroke="#fff" stroke-width="1.10" stroke-linejoin="round">1000</text></g>
<text x="716.22 744.32 761.59 822.05" y="1275.00" style="font-family:&quot;Liberation Sans&quot;,Arial,sans-serif;font-size:72.00px" fill="#262626" stroke="#fff" stroke-width="1.10" stroke-linejoin="round">time</text>
<text x="890.50 930.42 958.35 999.57" y="1275.00" style="font-family:&quot;Liberation Sans&quot;,Arial,sans-serif;font-size:72.00px" fill="#262626" stroke="#fff" stroke-width="1.10" stroke-linejoin="round">step</text>
<g transform="translate(105.5,747.9) rotate(-90)"><text x="-1.76" y="0.00" textLength="31.65" lengthAdjust="spacingAndGlyphs" style="font-family:&quot;Liberation Sans&quot;,Arial,sans-serif;font-size:70.00px" fill="#262626" stroke="#fff" stroke-width="0.8">s</text><text x="33.39" y="0.00" textLength="208.31" lengthAdjust="spacingAndGlyphs" style="font-family:&quot;Liberation Sans&quot;,Arial,sans-serif;font-size:81.50px" fill="#262626" stroke="#fff" stroke-width="0.8">RMSE</text><text x="248.06" y="-7.50" style="font-family:&quot;Liberation Sans&quot;,Arial,sans-serif;font-size:77.00px" fill="#262626">[</text><text x="266.62" y="-7.50" textLength="51.56" lengthAdjust="spacingAndGlyphs" style="font-family:&quot;Liberation Sans&quot;,Arial,sans-serif;font-size:77.00px" fill="#262626">-</text><text x="315.55" y="-7.50" style="font-family:&quot;Liberation Sans&quot;,Arial,sans-serif;font-size:77.00px" fill="#262626">]</text></g>
<rect x="615.1" y="96.8" width="910.6" height="155.6" fill="#fff" stroke="#a6a6a6" stroke-width="4.6"/>
<line x1="627.1" y1="138.2" x2="753.1" y2="138.2" stroke="#0000ff" stroke-width="6.8"/>
<line x1="627.1" y1="211.1" x2="753.1" y2="211.1" stroke="#ff0000" stroke-width="6.8" stroke-dasharray="20.4 20.0"/>
<text x="761.56 807.39 842.18 876.74 921.64" y="163.60" style="font-family:&quot;Liberation Sans&quot;,&quot;Noto Sans CJK JP&quot;,sans-serif;font-size:64.50px" fill="#000">RL+PI</text>
<text x="898.12" y="163.60" style="font-family:&quot;Liberation Sans&quot;,&quot;Noto Sans CJK JP&quot;,sans-serif;font-size:63.00px" fill="#000" stroke="#fff" stroke-width="1.3">（</text>
<text x="957.84 1009.44 1025.14 1076.43" y="163.60" style="font-family:&quot;Liberation Sans&quot;,&quot;Noto Sans CJK JP&quot;,sans-serif;font-size:64.50px" fill="#000">MIMO</text>
<text x="1144.34 1179.52 1214.22 1229.75 1244.72 1280.59" y="163.60" style="font-family:&quot;Liberation Sans&quot;,&quot;Noto Sans CJK JP&quot;,sans-serif;font-size:60.00px" fill="#000">policy</text>
<text x="1311.10" y="163.60" style="font-family:&quot;Liberation Sans&quot;,&quot;Noto Sans CJK JP&quot;,sans-serif;font-size:63.00px" fill="#000" stroke="#fff" stroke-width="1.3">）</text>
<text x="763.80" y="233.90" textLength="435.17" lengthAdjust="spacingAndGlyphs" style="font-family:&quot;Liberation Sans&quot;,Arial,sans-serif;font-size:63.00px" fill="#000">Ziegler−Nichols</text>
<text x="1217.32 1261.11" y="233.90" style="font-family:&quot;Liberation Sans&quot;,&quot;Noto Sans CJK JP&quot;,sans-serif;font-size:64.00px" fill="#000">PI</text>
<text x="1297.12" y="233.90" style="font-family:&quot;Liberation Sans&quot;,&quot;Noto Sans CJK JP&quot;,sans-serif;font-size:63.00px" fill="#000">+</text>
<text x="1355.12" y="233.90" textLength="162.31" lengthAdjust="spacingAndGlyphs" style="font-family:&quot;Liberation Sans&quot;,Arial,sans-serif;font-size:63.00px" fill="#000">Smith</text>
</svg>
</body></html>
